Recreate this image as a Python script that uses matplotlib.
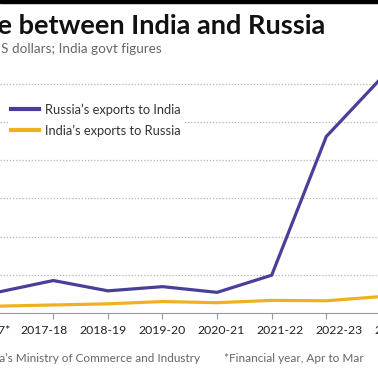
import numpy as np
import matplotlib
matplotlib.use('Agg')
import matplotlib.pyplot as plt
from matplotlib.patches import Rectangle

plt.rcParams['font.family'] = ['Lato', 'DejaVu Sans']

# ── dados (US$ bilhoes, governo indiano) ─────────────────────────────
anos = ['2016-17*', '2017-18', '2018-19', '2019-20', '2020-21',
        '2021-22', '2022-23', '2023-24']
russia_para_india = [5.5, 8.5, 5.8, 6.9, 5.4, 9.9, 46.2, 61.4]
india_para_russia = [1.8, 2.1, 2.4, 3.0, 2.7, 3.3, 3.2, 4.3]
grade_y = [10, 20, 30, 40, 50, 60]

ROXO = '#4a3f98'
AMARELO = '#f0b120'
W, H = 378, 370

fig = plt.figure(figsize=(W / 100, H / 100), dpi=100)

# eixo ocupa a largura toda (grafico original foi recortado)
px_x0, px_unit = -1.3, 54.6
base_px, py_unit = 313, 3.82
ax = fig.add_axes([0, (H - base_px) / H, 1, (base_px - 70) / H])
x = np.arange(len(anos))

ax.plot(x, russia_para_india, color=ROXO, lw=2.3, solid_joinstyle='miter',
        label='Russia\u2019s exports to India', zorder=3)
ax.plot(x, india_para_russia, color=AMARELO, lw=2.3, solid_joinstyle='miter',
        label='India\u2019s exports to Russia', zorder=3)

for g in grade_y:
    ax.axhline(g, color='#b5b5b5', lw=0.9, ls=(0, (1, 1.5)), zorder=1)

for s in ['top', 'left', 'right']:
    ax.spines[s].set_visible(False)
ax.spines['bottom'].set_color('#999999')
ax.spines['bottom'].set_linewidth(0.8)
ax.set_yticks([])

# ticks nos pontos
ax.set_xticks(x)
ax.set_xticklabels([])
ax.tick_params(axis='x', which='major', length=4, color='#999999', width=0.8)

ax.set_xlim((0 - px_x0) / px_unit, (W - px_x0) / px_unit)
ax.set_ylim(0, (base_px - 70) / py_unit)

# rotulos com espacamento proprio (como no original), mesmo fora da vista
rot_x = x * 1.0806 - 0.256
for rx, lab in zip(rot_x, anos):
    ax.annotate(lab, xy=(rx, 0), xycoords=('data', 'axes fraction'),
                xytext=(0, -9), textcoords='offset points', ha='center',
                va='top', fontsize=8.8, color='#222222',
                annotation_clip=False)

leg = ax.legend(loc='upper left', bbox_to_anchor=(8 / W, 1 - 101 / H),
                bbox_transform=fig.transFigure, fontsize=9.3,
                handlelength=2.2, handletextpad=0.5, labelspacing=0.65,
                borderpad=0.2, borderaxespad=0, frameon=True)
leg.get_frame().set_facecolor('white')
leg.get_frame().set_edgecolor('none')
leg.get_frame().set_alpha(1)
for t in leg.get_texts():
    t.set_color('#333333')
for l in leg.get_lines():
    l.set_linewidth(3)

fig.patches.append(Rectangle((0, 1 - 3.3 / H), 1, 3.3 / H, color='black',
                             transform=fig.transFigure, figure=fig))
fig.text(325 / W, 1 - 34 / H, 'Trade between India and Russia', ha='right',
         va='baseline', fontsize=19.5, fontweight='bold', color='#111111')
fig.text(162 / W, 1 - 53 / H, 'In billions of US dollars; India govt figures',
         ha='right', va='baseline', fontsize=9.7, color='#666666')
fig.text(200 / W, 1 - 362 / H, 'Source: India\u2019s Ministry of Commerce and Industry',
         ha='right', va='baseline', fontsize=8.5, color='#666666')
fig.text(224 / W, 1 - 362 / H, '*Financial year, Apr to Mar',
         ha='left', va='baseline', fontsize=8.5, color='#666666')

fig.savefig('out.png', dpi=100)
